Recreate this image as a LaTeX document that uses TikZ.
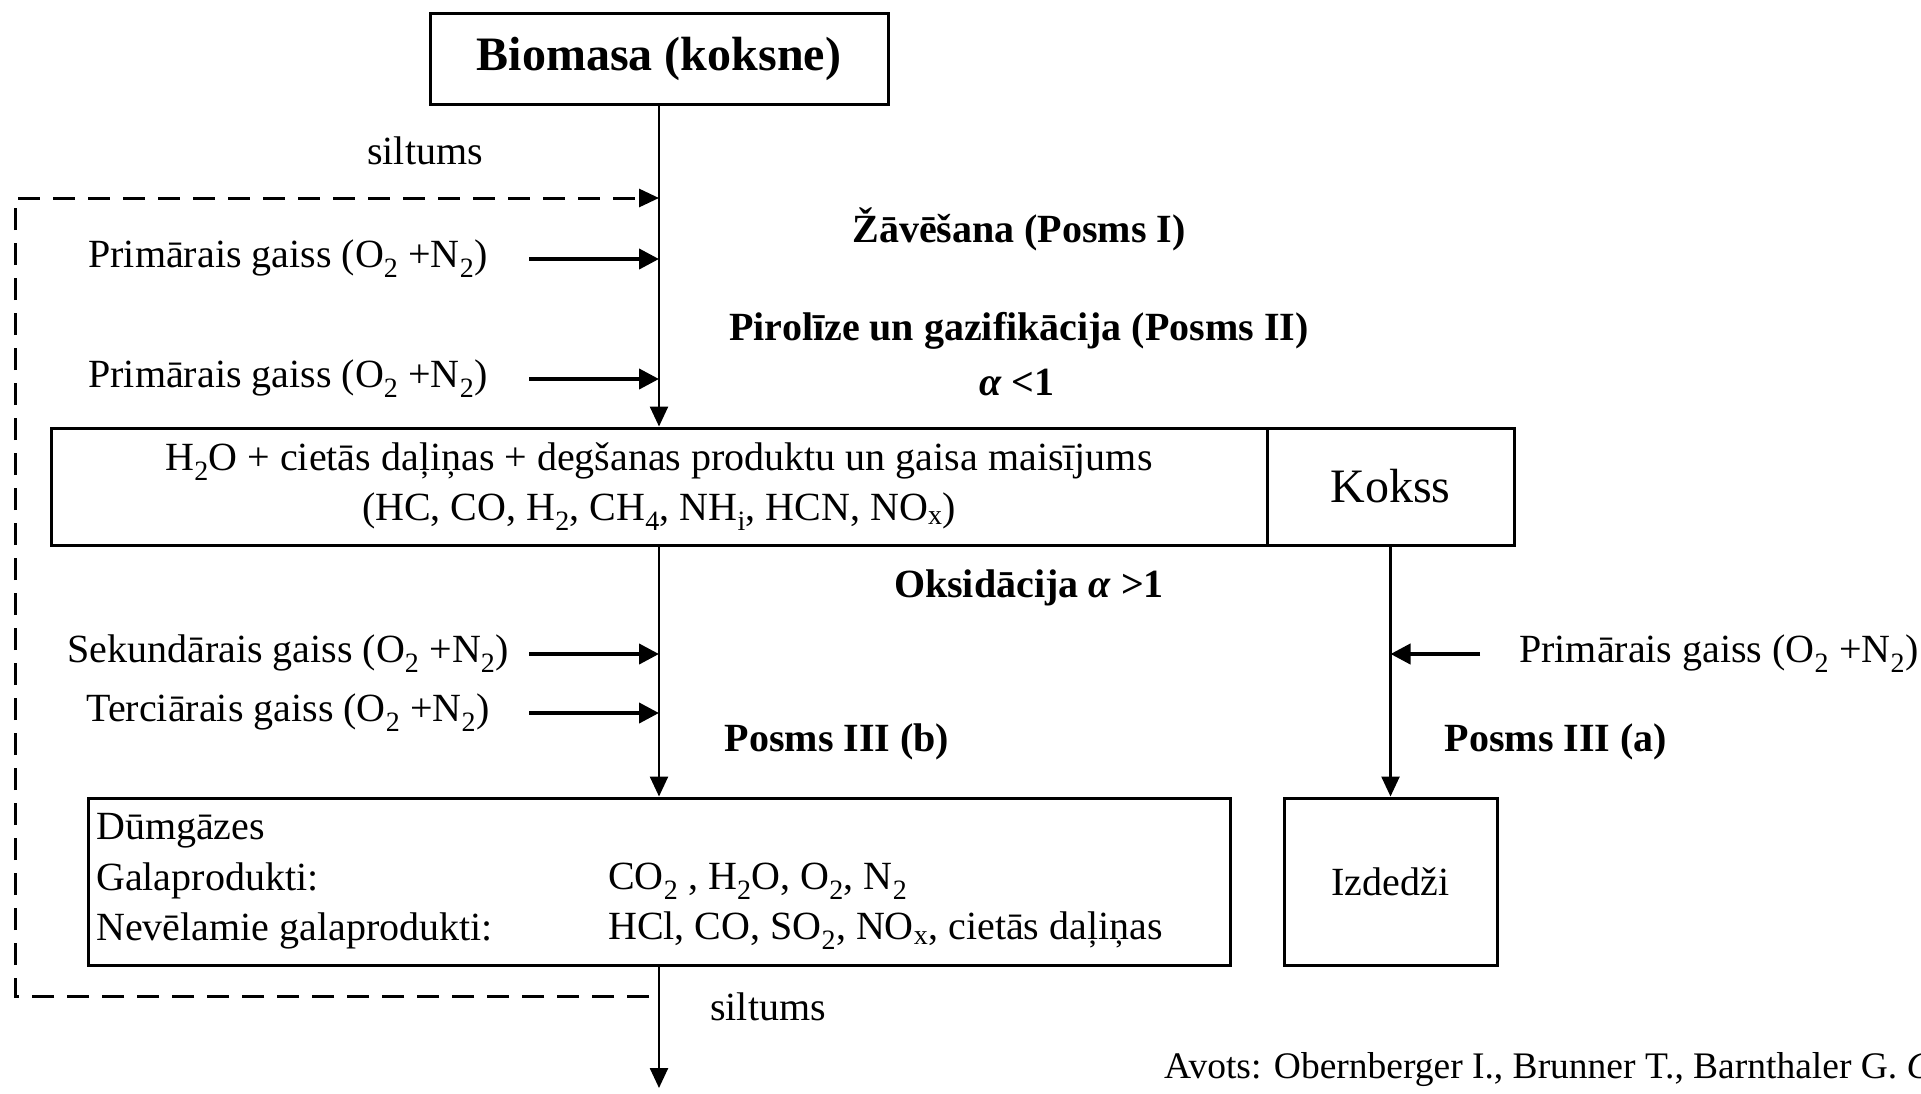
\documentclass[tikz,border=0pt]{standalone}
\usepackage{fontspec}
\setmainfont{Liberation Serif}
\usetikzlibrary{arrows.meta}
\tikzset{
  box/.style={draw, line width=3pt, inner sep=0pt, align=center},
  lbl/.style={inner sep=0pt, font=\fontsize{40}{44}\selectfont},
  blbl/.style={inner sep=0pt, font=\fontsize{40}{44}\selectfont\bfseries},
  flow/.style={line width=2.5pt, -{Triangle[length=20pt,width=18pt]}},
  feed/.style={line width=4pt, -{Triangle[length=20pt,width=20pt]}},
  heat/.style={line width=3pt, dash pattern=on 22pt off 13pt, -{Triangle[length=20pt,width=18pt]}}
}
\newcommand{\sub}[1]{\textsubscript{#1}}
\begin{document}
\begin{tikzpicture}[x=1pt,y=-1pt]
\useasboundingbox (0,0) rectangle (1921,1093);

% boxes
\node[box, minimum width=458pt, minimum height=91pt, font=\fontsize{48}{52}\selectfont\bfseries] (bio) at (659,58.5) {Biomasa (koksne)};
\node[box, minimum width=1216pt, minimum height=117pt, font=\fontsize{40}{50}\selectfont] (mix) at (659,486.5)
  {H\sub{2}O + cietās daļiņas + degšanas produktu un gaisa maisījums\\(HC, CO, H\sub{2}, CH\sub{4}, NH\sub{i}, HCN, NO\sub{x})};
\node[box, minimum width=247pt, minimum height=117pt, font=\fontsize{48}{52}\selectfont] (kok) at (1390.5,486.5) {Kokss};
\node[box, minimum width=1142pt, minimum height=167pt] (flue) at (659,881.5) {};
\node[box, minimum width=213pt, minimum height=167pt, font=\fontsize{40}{44}\selectfont] (izd) at (1390.5,881.5) {Izdedži};

% flue gas text
\node[lbl, anchor=west] (dg) at (96,831) {Dūmgāzes};
\node[lbl, anchor=west] (gp) at (96,881) {Galaprodukti:};
\node[lbl, anchor=west] (ng) at (96,931) {Nevēlamie galaprodukti:};
\node[lbl, anchor=west] (gpv) at (608,881) {CO\sub{2} , H\sub{2}O, O\sub{2}, N\sub{2}};
\node[lbl, anchor=west] (ngv) at (608,931) {HCl, CO, SO\sub{2}, NO\sub{x}, cietās daļiņas};

% labels
\node[lbl] (silt1) at (425,151) {siltums};
\node[lbl] (silt2) at (768,1007) {siltums};
\node[blbl] (zav) at (1019,229) {Žāvēšana (Posms I)};
\node[blbl] (pir) at (1019,331) {Pirolīze un gazifikācija (Posms II)};
\node[blbl] (alf1) at (1017,382) {\textit{α} <1};
\node[blbl] (oks) at (1029,588) {Oksidācija \textit{α} >1};
\node[blbl] (p3b) at (837,742) {Posms III (b)};
\node[blbl] (p3a) at (1556,742) {Posms III (a)};

\node[lbl] (pg1) at (288,259) {Primārais gaiss (O\sub{2} +N\sub{2})};
\node[lbl] (pg2) at (288,379) {Primārais gaiss (O\sub{2} +N\sub{2})};
\node[lbl] (sek) at (288,654) {Sekundārais gaiss (O\sub{2} +N\sub{2})};
\node[lbl] (ter) at (288,713) {Terciārais gaiss (O\sub{2} +N\sub{2})};
\node[lbl, anchor=west] (pg3) at (1519,654) {Primārais gaiss (O\sub{2} +N\sub{2})};

\node[inner sep=0pt, anchor=west, font=\fontsize{37.5}{40}\selectfont] (avots) at (1164,1070) {Avots: Obernberger I., Brunner T., Barnthaler G. \textit{C}};

% coordinates
\coordinate (m1) at (659,198);
\coordinate (m2) at (659,259);
\coordinate (m3) at (659,379);
\coordinate (m4) at (659,654);
\coordinate (m5) at (659,713);
\coordinate (k1) at (1390.5,654);
\coordinate (s1) at (529,259);
\coordinate (s2) at (529,379);
\coordinate (s4) at (529,654);
\coordinate (s5) at (529,713);
\coordinate (s6) at (1480,654);
\coordinate (hb) at (649,996);
\coordinate (hbl) at (15,996);
\coordinate (htl) at (15,198);
\coordinate (out) at (659,1088);

% main flow
\draw[flow] (bio.south) -- (mix.north);
\draw[flow] (mix.south) -- (flue.north);
\draw[flow] (kok.south) -- (izd.north);
\draw[flow] (flue.south) -- (out);

% air feeds
\draw[feed] (s1) -- (m2);
\draw[feed] (s2) -- (m3);
\draw[feed] (s4) -- (m4);
\draw[feed] (s5) -- (m5);
\draw[feed] (s6) -- (k1);

% heat recirculation
\draw[heat] (hb) -- (hbl) -- (htl) -- (m1);
\end{tikzpicture}
\end{document}
